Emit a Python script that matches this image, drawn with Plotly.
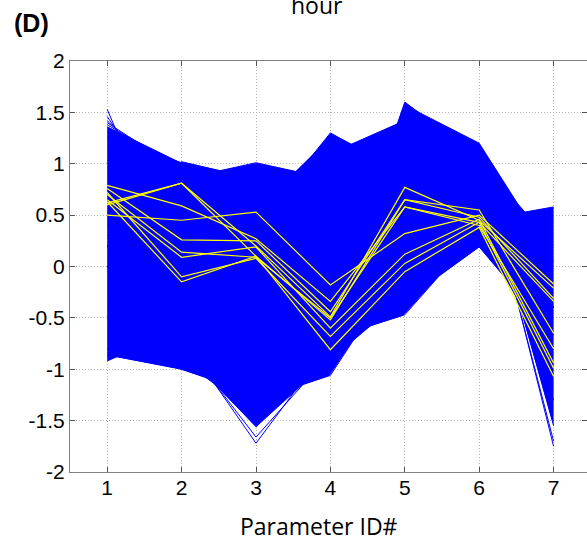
import numpy as np
import plotly.graph_objects as go

# ---------------- data ----------------
params = [1, 2, 3, 4, 5, 6, 7]
x_tick_text = ["1", "2", "3", "4", "5", "6", "7"]
y_tick_vals = [-2, -1.5, -1, -0.5, 0, 0.5, 1, 1.5, 2]
y_tick_text = ["-2", "-1.5", "-1", "-0.5", "0", "0.5", "1", "1.5", "2"]

# blue runs that shape the dense band (values at parameters 1..7)
blue_upper_runs = [
    [1.36, 1.00, 0.30, 0.10, 0.50, 0.60, -0.40],
    [1.25, 1.01, 0.30, 0.10, 0.50, 0.60, -0.40],
    [0.40, 1.02, 0.85, 0.10, 0.50, 0.60, -0.40],
    [0.30, 0.85, 1.01, 0.85, 0.50, 0.60, -0.40],
    [0.30, 0.92, 0.93, 0.70, 0.50, 0.60, -0.40],
    [0.20, 0.00, 0.40, 1.30, 0.90, 0.60, -0.40],
    [0.20, 0.00, 0.55, 1.25, 0.80, 0.60, -0.40],
    [0.20, 0.00, 0.70, 1.12, 0.80, 0.60, -0.40],
    [0.20, 0.00, -0.30, 1.10, 1.42, 0.80, -0.40],
    [0.20, 0.00, -0.30, -0.50, 1.60, 1.05, 0.20],
    [0.20, 0.00, -0.30, -0.35, 1.57, 1.20, 0.05],
    [0.20, 0.00, -0.30, 0.10, 0.50, 0.45, 0.58],
    [0.20, 0.00, -0.30, 0.10, 0.80, 1.05, -1.55],
    [0.20, 0.00, -0.30, 0.10, 0.80, 0.70, -1.30],
]
blue_lower_runs = [
    [-0.92, -0.60, -0.30, 0.10, 0.50, 0.60, -0.40],
    [-0.86, -1.00, -1.25, -0.50, 0.50, 0.60, -0.40],
    [-0.80, -0.90, -1.45, -0.95, 0.50, 0.60, -0.40],
    [0.00, -0.80, -1.56, -0.90, 0.00, 0.60, -0.40],
    [0.00, -0.30, -1.30, -1.06, 0.05, 0.60, -0.40],
    [0.00, -0.30, -1.20, -0.90, -0.30, 0.60, -0.40],
    [0.00, 0.00, -0.50, -0.70, -0.47, 0.35, -0.40],
    [0.00, 0.00, -0.30, 0.00, -0.33, 0.19, -0.67],
    [0.00, 0.00, -0.30, 0.10, -0.20, 0.20, -0.40],
    [0.00, 0.00, -0.30, 0.10, 0.20, 0.35, -0.95],
]
# sparse blue runs that stick out of the band
blue_outlier_runs = [
    [1.53, -0.17, -0.30, 0.10, 0.50, 0.60, -0.40],
    [1.46, 0.37, -0.30, 0.10, 0.50, 0.60, -0.40],
    [1.42, 0.70, -0.30, 0.10, 0.50, 0.60, -0.40],
    [1.40, 0.93, -0.30, 0.10, 0.50, 0.60, -0.40],
    [1.38, 0.96, -0.30, 0.10, 0.50, 0.60, -0.40],
    [0.00, -0.68, -1.72, -0.75, 0.00, 0.60, -0.40],
    [0.00, -0.72, -1.66, -0.85, 0.00, 0.60, -0.40],
    [0.20, 0.00, -0.30, 0.10, 0.80, 1.15, -1.75],
    [0.20, 0.00, -0.30, 0.10, 0.80, 1.10, -1.70],
]
# highlighted (yellow) runs
yellow_runs = [
    [0.50, 0.45, 0.53, -0.18, 0.32, 0.50, -0.17],
    [0.62, 0.81, 0.20, -0.49, 0.77, 0.45, -0.21],
    [0.60, 0.81, 0.10, -0.52, 0.65, 0.48, -0.31],
    [0.79, 0.59, 0.27, -0.34, 0.58, 0.43, -0.34],
    [0.76, 0.26, 0.25, -0.44, 0.65, 0.55, -0.65],
    [0.70, 0.14, 0.09, -0.50, 0.58, 0.40, -0.80],
    [0.65, 0.09, 0.19, -0.60, 0.12, 0.46, -0.94],
    [0.72, -0.10, 0.08, -0.68, 0.03, 0.43, -0.99],
    [0.63, -0.15, 0.10, -0.81, -0.05, 0.38, -1.07],
]

BLUE = "#0000ff"
YELLOW = "#ffff00"

# ---------------- dense band = envelope of the blue runs ----------------
core = np.array(blue_upper_runs + blue_lower_runs, dtype=float)
env_x, env_hi, env_lo = [], [], []
for k in range(len(params) - 1):
    t = np.linspace(0, 1, 80, endpoint=(k == len(params) - 2))
    seg = core[:, k][:, None] + t[None, :] * (core[:, k + 1] - core[:, k])[:, None]
    env_x.extend(params[k] + t * (params[k + 1] - params[k]))
    env_hi.extend(seg.max(axis=0))
    env_lo.extend(seg.min(axis=0))
poly_x = list(env_x) + list(env_x[::-1])
poly_y = list(env_hi) + list(env_lo[::-1])


def join_runs(runs):
    xs, ys = [], []
    for r in runs:
        xs.extend(params + [None])
        ys.extend(list(r) + [None])
    return xs, ys


fig = go.Figure()
fig.add_trace(go.Scatter(x=poly_x, y=poly_y, fill="toself", fillcolor=BLUE,
                         mode="lines", line=dict(width=0, color=BLUE),
                         hoverinfo="skip", showlegend=False))
bx, by = join_runs(blue_upper_runs + blue_lower_runs + blue_outlier_runs)
fig.add_trace(go.Scatter(x=bx, y=by, mode="lines",
                         line=dict(color=BLUE, width=1),
                         hoverinfo="skip", showlegend=False))
yx, yy = join_runs(yellow_runs)
fig.add_trace(go.Scatter(x=yx, y=yy, mode="lines",
                         line=dict(color=YELLOW, width=1.2),
                         hoverinfo="skip", showlegend=False))

axis_common = dict(
    ticks="inside", ticklen=5, tickcolor="#555555", tickwidth=1,
    showline=True, linecolor="#808080", linewidth=1, mirror="ticks",
    showgrid=True, gridcolor="#b4b4b4", gridwidth=1, griddash="1px,2px",
    zeroline=False,
    tickfont=dict(family="Liberation Sans, Arial, sans-serif", size=21, color="#000000"),
)

fig.update_layout(
    width=587, height=537,
    margin=dict(l=70, r=0, t=61, b=65, pad=0),
    paper_bgcolor="white", plot_bgcolor="white",
    showlegend=False,
    xaxis=dict(range=[0.5, 7.449], tickmode="array", tickvals=params,
               ticktext=x_tick_text, ticklabelstandoff=-3, **axis_common),
    yaxis=dict(range=[-2, 2], tickmode="array", tickvals=y_tick_vals,
               ticktext=y_tick_text, **axis_common),
    annotations=[
        dict(text="hour", xref="paper", yref="paper", x=0.478, y=1.1798,
             xanchor="center", yanchor="top", showarrow=False,
             font=dict(family="Open Sans, Noto Sans, sans-serif", size=23, color="#000000")),
        dict(text="Parameter ID#", xref="paper", yref="paper", x=0.4807, y=-0.0869,
             xanchor="center", yanchor="top", showarrow=False,
             font=dict(family="Open Sans, Noto Sans, sans-serif", size=23, color="#000000")),
        dict(text="<b>(D)</b>", xref="paper", yref="paper", x=-0.0754, y=1.1320,
             xanchor="center", yanchor="top", showarrow=False,
             font=dict(family="Liberation Sans, Arial, sans-serif", size=25, color="#000000")),
    ],
)

fig.write_html("out.html")
